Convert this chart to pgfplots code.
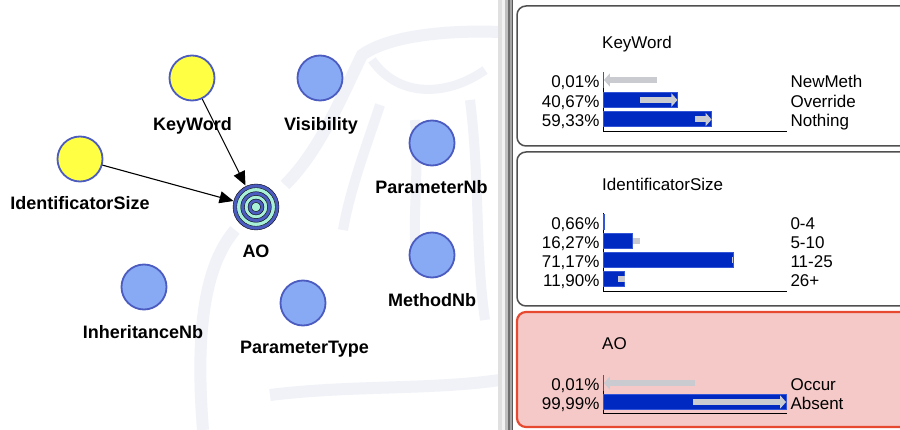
\documentclass[border=0pt]{standalone}
\usepackage{fontspec}
\setmainfont{Liberation Sans}
\usepackage{pgfplots}
\pgfplotsset{compat=1.18}
\usetikzlibrary{arrows.meta}

\definecolor{barblue}{HTML}{0029C2}
\definecolor{baredge}{HTML}{3355D6}
\definecolor{priorgrey}{HTML}{C9CBD1}
\definecolor{nodeyellow}{HTML}{FFFF44}
\definecolor{nodeblue}{HTML}{88AAF4}
\definecolor{nodeedge}{HTML}{4B5BBF}
\definecolor{aodark}{HTML}{4B5BC0}
\definecolor{aolight}{HTML}{A9F0D8}
\definecolor{panelline}{HTML}{505050}
\definecolor{alertfill}{HTML}{F5C9C8}
\definecolor{alertline}{HTML}{E6492F}
\definecolor{wmark}{HTML}{F0F2F8}

\newcommand{\panelfont}{\fontsize{17}{20}\selectfont}
\newcommand{\netfont}{\fontsize{18}{21}\selectfont\bfseries}

\pgfplotsset{
  monitor/.style={
    scale only axis, width=184pt,
    xmin=0, xmax=100.5,
    axis x line*=bottom, axis y line*=left,
    axis line style={black, line width=0.9pt},
    xtick=\empty, major tick length=0pt,
    yticklabel style={font=\panelfont, anchor=base east, yshift=-7.5pt},
    clip=false,
  },
  belief/.style={xbar, bar shift=0pt, bar width=15pt, fill=barblue, draw=baredge, line width=1pt},
  prior/.style={draw=priorgrey, line width=6pt, -{Triangle[width=13pt,length=6pt]}},
  priorbit/.style={draw=priorgrey, line width=6pt},
  netnode/.style={only marks, mark=*, mark size=22.5pt, mark options={fill=#1, draw=nodeedge, line width=1.8pt}},
  ring/.style 2 args={only marks, mark=*, mark size=#1, mark options={fill=#2, draw=none}},
}

\begin{document}
\begin{tikzpicture}
\path[use as bounding box] (0,0) rectangle (900pt,-430pt);

% canvas: network view, splitter and monitor frames (1 unit = 1 px, y downwards negative)
\begin{axis}[at={(0pt,0pt)}, anchor=north west, scale only axis,
  width=900pt, height=430pt, xmin=0, xmax=900, ymin=-430, ymax=0,
  hide axis, clip=true]
\fill[white] (0,0) rectangle (900,-430);
% faint watermark
\draw[wmark, line width=12pt] (203,-430) .. controls (195,-330) and (205,-265) .. (235,-230);
\draw[wmark, line width=12pt] (285,-185) .. controls (320,-150) and (340,-100) .. (362,-55)
  .. controls (390,-35) and (450,-30) .. (500,-32);
\draw[wmark, line width=9pt] (372,-60) .. controls (400,-100) and (450,-95) .. (485,-70);
\draw[wmark, line width=10pt] (380,-105) .. controls (365,-150) and (350,-190) .. (343,-230);
\draw[wmark, line width=10pt] (415,-120) .. controls (420,-180) and (410,-230) .. (418,-270);
\draw[wmark, line width=10pt] (470,-100) .. controls (480,-180) and (475,-250) .. (485,-320);
\draw[wmark, line width=12pt] (270,-395) .. controls (350,-385) and (430,-390) .. (500,-380);
% splitter
\fill[white] (498,0) rectangle (900,-430);
\fill[black!12] (498,0) rectangle (502,-430);
\fill[black!5] (502,0) rectangle (505,-430);
\fill[black!25] (505,0) rectangle (507.5,-430);
\fill[black!57] (507.5,0) rectangle (509.5,-430);
\fill[black!35] (509.5,0) rectangle (511.5,-430);
\fill[black!65] (511.5,0) rectangle (513,-430);
% monitor frames
\draw[panelline, line width=1.5pt, fill=white, rounded corners=9pt] (517,-6) rectangle (940,-146);
\draw[panelline, line width=1.5pt, fill=white, rounded corners=9pt] (517,-152) rectangle (940,-306);
\draw[alertline, line width=2.2pt, fill=alertfill, rounded corners=9pt] (517,-312) rectangle (940,-427);
\node[anchor=base west, inner sep=0, font=\panelfont] at (602,-48.5) {KeyWord};
\node[anchor=base west, inner sep=0, font=\panelfont] at (602,-190.5) {IdentificatorSize};
\node[anchor=base west, inner sep=0, font=\panelfont] at (602,-350) {AO};

% network edges
\addplot[black, line width=1.1pt, -{Triangle[width=12pt,length=14pt]}] coordinates {(202,-98.5) (245.5,-185.5)};
\addplot[black, line width=1.1pt, -{Triangle[width=12pt,length=14pt]}] coordinates {(102,-165) (233.5,-201)};
% network nodes
\addplot[netnode=nodeyellow] coordinates {(192,-78) (80,-159)};
\addplot[netnode=nodeblue] coordinates {(320,-78) (432,-143) (432,-255) (144,-287) (303,-303)};
\addplot[ring={23pt}{aodark}] coordinates {(256,-207)};
\addplot[ring={19.3pt}{aolight}] coordinates {(256,-207)};
\addplot[ring={15.3pt}{aodark}] coordinates {(256,-207)};
\addplot[ring={11.7pt}{aolight}] coordinates {(256,-207)};
\addplot[ring={8pt}{aodark}] coordinates {(256,-207)};
\addplot[ring={4.7pt}{aolight}] coordinates {(256,-207)};
\node[anchor=base, font=\netfont] at (192.5,-131) {KeyWord};
\node[anchor=base, font=\netfont] at (321,-131) {Visibility};
\node[anchor=base, font=\netfont] at (431.5,-194) {ParameterNb};
\node[anchor=base, font=\netfont] at (80,-210) {IdentificatorSize};
\node[anchor=base, font=\netfont] at (256,-258) {AO};
\node[anchor=base, font=\netfont] at (432,-307) {MethodNb};
\node[anchor=base, font=\netfont] at (143,-339) {InheritanceNb};
\node[anchor=base, font=\netfont] at (304.5,-354) {ParameterType};
\end{axis}

% KeyWord monitor
\begin{axis}[monitor, at={(603pt,-131pt)}, anchor=south west,
  height=58.5pt, ymin=-131, ymax=-72.5,
  ytick={-119.5,-100,-80}, yticklabels={{59,33\%},{40,67\%},{0,01\%}}]
\addplot[belief] coordinates {(0.01,-80) (40.67,-100) (59.33,-119.5)};
\addplot[prior] coordinates {(29.5,-80) (0.5,-80)};
\addplot[prior] coordinates {(20.2,-100) (40.67,-100)};
\addplot[prior] coordinates {(50.2,-119.5) (59.33,-119.5)};
\node[anchor=base west, font=\panelfont] at (100.5,-87.5) {NewMeth};
\node[anchor=base west, font=\panelfont] at (100.5,-107.5) {Override};
\node[anchor=base west, font=\panelfont] at (100.5,-127) {Nothing};
\end{axis}

% IdentificatorSize monitor
\begin{axis}[monitor, at={(603pt,-291pt)}, anchor=south west,
  height=77.5pt, ymin=-291, ymax=-213.5,
  ytick={-279.3,-260.3,-241,-222}, yticklabels={{11,90\%},{71,17\%},{16,27\%},{0,66\%}}]
\addplot[belief] coordinates {(0.66,-222) (16.27,-241) (71.17,-260.3) (11.90,-279.3)};
\addplot[priorbit] coordinates {(16.27,-241) (20.2,-241)};
\addplot[priorbit] coordinates {(70.6,-260.3) (71.17,-260.3)};
\addplot[priorbit] coordinates {(8.2,-279.3) (11.9,-279.3)};
\node[anchor=base west, font=\panelfont] at (100.5,-229.5) {0-4};
\node[anchor=base west, font=\panelfont] at (100.5,-248.5) {5-10};
\node[anchor=base west, font=\panelfont] at (100.5,-267.8) {11-25};
\node[anchor=base west, font=\panelfont] at (100.5,-286.8) {26+};
\end{axis}

% AO monitor
\begin{axis}[monitor, at={(603pt,-413pt)}, anchor=south west,
  height=38pt, ymin=-413, ymax=-375,
  ytick={-402,-383}, yticklabels={{99,99\%},{0,01\%}}]
\addplot[belief] coordinates {(0.01,-383) (99.99,-402)};
\addplot[prior] coordinates {(50.2,-383) (0.5,-383)};
\addplot[prior] coordinates {(49.2,-402) (99.99,-402)};
\node[anchor=base west, font=\panelfont] at (100.5,-390.5) {Occur};
\node[anchor=base west, font=\panelfont] at (100.5,-409.5) {Absent};
\end{axis}
\end{tikzpicture}
\end{document}
